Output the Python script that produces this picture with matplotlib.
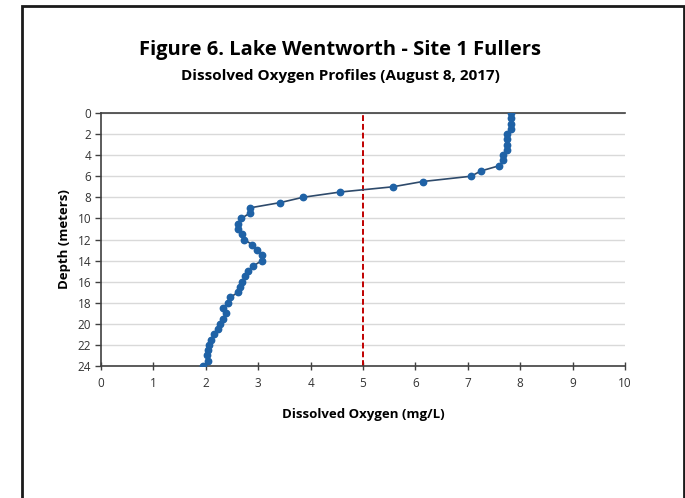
import matplotlib
matplotlib.use("Agg")
import matplotlib.pyplot as plt
from matplotlib.patches import Rectangle

plt.rcParams['font.family'] = ['Open Sans', 'DejaVu Sans']

# depth (m) and dissolved oxygen (mg/L)
depth = [0.0, 0.5, 1.0, 1.5, 2.0, 2.5, 3.0, 3.5, 4.0, 4.5,
         5.0, 5.5, 6.0, 6.5, 7.0, 7.5, 8.0, 8.5, 9.0, 9.5,
         10.0, 10.5, 11.0, 11.5, 12.0, 12.5, 13.0, 13.5, 14.0, 14.5,
         15.0, 15.5, 16.0, 16.5, 17.0, 17.5, 18.0, 18.5, 19.0, 19.5,
         20.0, 20.5, 21.0, 21.5, 22.0, 22.5, 23.0, 23.5, 24.0]
do_mgl = [7.83, 7.82, 7.83, 7.82, 7.74, 7.74, 7.74, 7.75, 7.68, 7.68,
          7.60, 7.25, 7.06, 6.14, 5.57, 4.56, 3.85, 3.42, 2.84, 2.84,
          2.68, 2.62, 2.62, 2.70, 2.73, 2.89, 2.97, 3.07, 3.07, 2.91,
          2.81, 2.75, 2.70, 2.65, 2.62, 2.46, 2.42, 2.33, 2.39, 2.32,
          2.27, 2.24, 2.16, 2.09, 2.07, 2.05, 2.03, 2.05, 1.95]
do_threshold = 5
x_ticks = [0, 1, 2, 3, 4, 5, 6, 7, 8, 9, 10]
y_ticks = [0, 2, 4, 6, 8, 10, 12, 14, 16, 18, 20, 22, 24]

fig = plt.figure(figsize=(6.85, 4.98), dpi=100)

# outer frame of the figure box
fig.patches.append(Rectangle((22 / 685, -0.05), (684 - 22) / 685, 1.05 - 6 / 498,
                             transform=fig.transFigure, fill=False,
                             edgecolor='#1a1a1a', linewidth=2.0))

ax = fig.add_axes([101 / 685, 1 - 366 / 498, 524 / 685, 253 / 498])

ax.plot(do_mgl, depth, color='#2e4a6b', linewidth=1.2, marker='o',
        markersize=4.6, markerfacecolor='#1f62a6', markeredgecolor='#1f62a6', zorder=3)
ax.axvline(do_threshold, color='#c00000', linestyle=(0, (3, 1.5)), linewidth=1.4, zorder=2)

ax.set_xlim(0, 10)
ax.set_ylim(24, 0)
ax.set_xticks(x_ticks)
ax.set_yticks(y_ticks)
ax.grid(axis='y', color='#d9d9d9', linewidth=1)
ax.set_axisbelow(True)

for s in ['left', 'bottom', 'top']:
    ax.spines[s].set_color('#404040')
    ax.spines[s].set_linewidth(1.2)
ax.spines['right'].set_visible(False)

ax.tick_params(axis='x', direction='inout', length=6, width=1, color='#404040',
               labelsize=8.5, labelcolor='#333333', pad=5)
ax.tick_params(axis='y', direction='out', length=4, width=1, color='#404040',
               labelsize=8.5, labelcolor='#333333', pad=3)

ax.set_xlabel('Dissolved Oxygen (mg/L)', fontsize=9.5, fontweight='bold', labelpad=13)
ax.set_ylabel('Depth (meters)', fontsize=9.5, fontweight='bold', labelpad=5)

fig.text(0.497, 1 - 50 / 498, 'Figure 6. Lake Wentworth - Site 1 Fullers',
         ha='center', va='center', fontsize=14.5, fontweight='bold')
fig.text(0.497, 1 - 76 / 498, 'Dissolved Oxygen Profiles (August 8, 2017)',
         ha='center', va='center', fontsize=11, fontweight='bold')

fig.savefig('out.png', dpi=100)
